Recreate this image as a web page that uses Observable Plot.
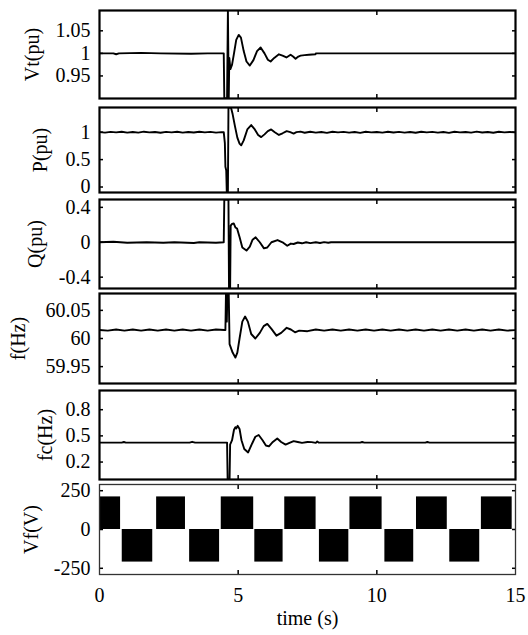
<!DOCTYPE html>
<html><head><meta charset="utf-8">
<script src="https://cdn.jsdelivr.net/npm/d3@7"></script>
<script src="https://cdn.jsdelivr.net/npm/@observablehq/plot@0.6"></script>
<style>
body{margin:0;background:#fff;}
#chart{position:relative;width:528px;height:635px;overflow:hidden;}
#chart svg{position:absolute;left:0;}
</style></head><body><div id="chart"></div>
<script>
// ---- tick labels ----
const xTicks = [0, 5, 10, 15];
const xInnerTicks = [5, 10];
const vtTicks = [0.95, 1, 1.05];
const pTicks = [0, 0.5, 1];
const qTicks = [-0.4, 0, 0.4];
const fTicks = [59.95, 60, 60.05];
const fcTicks = [0.2, 0.5, 0.8];
const vfTicks = [-250, 0, 250];

// ---- series values: [time (s), value] ----
const vtSeries = [[0,1.0],[0.5,1.0],[0.6,0.998],[0.7,1.0],[1.5,1.001],[2.2,1.0],[3.3,0.999],[3.9,1.0],[4.48,1.0],[4.5,0.9],[4.6,0.9],[4.63,1.095],[4.66,0.9],[4.68,0.99],[4.72,0.965],[4.78,0.975],[4.85,1.0],[4.93,1.03],[5.02,1.041],[5.1,1.035],[5.2,1.005],[5.3,0.982],[5.42,0.973],[5.55,0.985],[5.68,1.005],[5.81,1.013],[5.95,1.0],[6.07,0.986],[6.17,0.982],[6.3,0.99],[6.47,0.998],[6.6,0.995],[6.74,0.991],[6.89,0.997],[6.98,0.993],[7.07,0.988],[7.17,0.993],[7.25,0.995],[7.4,0.996],[7.55,0.997],[7.79,0.998],[7.8,1.0],[15,1.0]];

const pSeries = [[0,1.0],[0.2,0.992],[0.4,1.006],[0.6,0.996],[0.8,1.008],[1.0,0.992],[1.2,1.004],[1.4,0.992],[1.6,1.009],[1.8,0.996],[2.0,1.004],[2.2,0.99],[2.4,1.006],[2.6,0.996],[2.8,1.008],[3.0,0.992],[3.2,1.004],[3.4,0.994],[3.6,1.008],[3.8,0.996],[4.0,1.006],[4.2,0.992],[4.4,1.0],[4.48,1.0],[4.52,0.8],[4.54,0.37],[4.57,0.3],[4.59,-0.1],[4.63,-0.1],[4.65,1.45],[4.74,1.45],[4.8,1.33],[4.88,1.12],[4.97,0.9],[5.05,0.79],[5.11,0.76],[5.2,0.85],[5.33,1.05],[5.47,1.13],[5.6,1.05],[5.72,0.95],[5.83,0.91],[5.95,0.96],[6.07,1.02],[6.19,1.05],[6.32,1.0],[6.47,0.95],[6.6,0.98],[6.75,1.02],[6.88,1.0],[7.0,0.975],[7.1,1.0],[7.25,1.01],[7.4,0.99],[7.6,1.008],[7.8,0.992],[8.0,1.004],[8.2,0.988],[8.4,1.008],[8.6,0.996],[8.8,1.006],[9.0,0.992],[9.2,1.004],[9.4,0.988],[9.6,1.008],[9.8,0.996],[10.0,1.004],[10.2,0.992],[10.4,1.008],[10.6,0.994],[10.8,1.006],[11.0,0.992],[11.2,1.004],[11.4,0.99],[11.6,1.008],[11.8,0.996],[12.0,1.006],[12.2,0.992],[12.4,1.004],[12.6,0.988],[12.8,1.008],[13.0,0.996],[13.2,1.004],[13.4,0.992],[13.6,1.009],[13.8,0.994],[14.0,1.004],[14.2,0.99],[14.4,1.008],[14.6,0.996],[14.8,1.004],[15.0,0.996]];

const qSeries = [[0,0],[0.5,0.005],[1.0,-0.005],[1.7,0.0],[2.3,-0.005],[2.7,0.0],[3.4,-0.008],[3.6,0.0],[4.2,-0.005],[4.48,0.0],[4.5,0.49],[4.65,0.49],[4.67,-0.53],[4.71,-0.53],[4.73,0.19],[4.78,0.21],[4.84,0.215],[4.9,0.17],[4.96,0.157],[5.05,0.06],[5.15,-0.06],[5.3,-0.095],[5.42,-0.05],[5.52,0.03],[5.63,0.057],[5.78,0.0],[5.93,-0.07],[6.05,-0.06],[6.2,0.0],[6.42,0.025],[6.6,0.0],[6.77,-0.04],[6.9,-0.015],[7.0,-0.02],[7.15,-0.003],[7.3,-0.012],[7.45,0.0],[7.6,-0.01],[7.8,0.0],[7.95,-0.008],[8.1,0.002],[8.25,-0.006],[8.35,0.0],[15,0.0]];

const fSeries = [[0,60.015],[0.3,60.014],[0.6,60.016],[0.9,60.014],[1.2,60.016],[1.5,60.014],[1.8,60.016],[2.1,60.014],[2.4,60.016],[2.7,60.014],[3.0,60.016],[3.3,60.014],[3.6,60.016],[3.9,60.014],[4.2,60.016],[4.5,60.015],[4.54,60.015],[4.56,60.08],[4.59,60.03],[4.61,60.08],[4.66,60.08],[4.69,59.99],[4.8,59.975],[4.9,59.966],[4.97,59.975],[5.05,60.0],[5.15,60.03],[5.25,60.039],[5.35,60.03],[5.47,60.008],[5.62,60.0],[5.78,60.01],[5.92,60.022],[6.05,60.026],[6.2,60.017],[6.38,60.005],[6.55,60.01],[6.75,60.019],[6.9,60.016],[7.05,60.011],[7.2,60.014],[7.5,60.013],[7.8,60.016],[8.1,60.014],[8.4,60.016],[8.7,60.014],[9.0,60.016],[9.3,60.014],[9.6,60.016],[9.9,60.014],[10.2,60.016],[10.5,60.014],[10.8,60.016],[11.1,60.014],[11.4,60.016],[11.7,60.014],[12.0,60.016],[12.3,60.014],[12.6,60.016],[12.9,60.014],[13.2,60.016],[13.5,60.014],[13.8,60.016],[14.1,60.014],[14.4,60.016],[14.7,60.014],[15,60.015]];

const fcSeries = [[0,0.423],[0.8,0.423],[0.88,0.43],[0.95,0.423],[3.25,0.423],[3.34,0.432],[3.45,0.423],[4.6,0.423],[4.62,0.0],[4.69,0.0],[4.71,0.4],[4.78,0.45],[4.85,0.57],[4.9,0.6],[4.93,0.585],[4.98,0.615],[5.05,0.58],[5.12,0.45],[5.22,0.35],[5.36,0.31],[5.5,0.41],[5.62,0.49],[5.74,0.51],[5.88,0.45],[6.0,0.39],[6.11,0.38],[6.25,0.43],[6.41,0.47],[6.55,0.43],[6.71,0.40],[6.85,0.42],[7.0,0.44],[7.15,0.43],[7.3,0.42],[7.5,0.43],[7.65,0.428],[7.8,0.42],[7.85,0.435],[7.9,0.423],[9.4,0.423],[9.47,0.43],[9.55,0.423],[11.75,0.423],[11.82,0.43],[11.9,0.423],[15,0.423]];

// field voltage blocks (bang-bang excitation)
const vfStart = [0, 0.82, 2.06, 3.25, 4.39, 5.60, 6.68, 7.93, 9.03, 10.29, 11.43, 12.63, 13.77];
const vfEnd   = [0.76, 1.92, 3.10, 4.33, 5.56, 6.62, 7.81, 8.99, 10.19, 11.33, 12.54, 13.71, 14.88];
const vfLevel = [210, -210, 210, -210, 210, -210, 210, -210, 210, -210, 210, -210, 210];
const vfBlocks = vfStart.map((s, i) => ({x1: s, x2: vfEnd[i], y: vfLevel[i]}));

const FONT = "'Liberation Serif', 'Times New Roman', serif";
const W = 528, ML = 99, MR = 13;

const panels = [
  {label: "Vt(pu)", data: vtSeries, domain: [0.9, 1.095], ticks: vtTicks, top: 10, bottom: 98, lo: 75},
  {label: "P(pu)", data: pSeries, domain: [-0.1, 1.45], ticks: pTicks, top: 107, bottom: 192, lo: 67},
  {label: "Q(pu)", data: qSeries, domain: [-0.53, 0.49], ticks: qTicks, top: 199, bottom: 288, lo: 72},
  {label: "f(Hz)", data: fSeries, domain: [59.92, 60.08], ticks: fTicks, top: 293, bottom: 383, lo: 89},
  {label: "fc(Hz)", data: fcSeries, domain: [0, 1.02], ticks: fcTicks, top: 390, bottom: 479, lo: 62},
  {label: "Vf(V)", data: null, domain: [-290, 290], ticks: vfTicks, top: 484, bottom: 574, lo: 76, last: true}
];

const chart = document.getElementById("chart");
for (const p of panels) {
  const mt = 2, mb = p.last ? 61 : 2;
  const marks = [];
  if (p.data) {
    marks.push(Plot.line(p.data, {x: d => d[0], y: d => d[1], stroke: "black", strokeWidth: 1.9, clip: true}));
  } else {
    marks.push(Plot.rectY(vfBlocks, {x1: "x1", x2: "x2", y1: 0, y2: "y", fill: "black"}));
  }
  marks.push(
    Plot.axisY(p.ticks, {anchor: "left", tickSize: 0, tickPadding: 9, tickFormat: d => String(d),
      label: p.label, labelAnchor: "center", labelArrow: "none", labelOffset: p.lo}),
    Plot.axisY(p.ticks, {anchor: "left", tickSize: 4, dx: 4, tickFormat: () => "", label: null, strokeWidth: 1.5}),
    Plot.axisY(p.ticks, {anchor: "right", tickSize: 4, dx: -4, tickFormat: () => "", label: null, strokeWidth: 1.5}),
    Plot.axisX(xInnerTicks, {anchor: "top", tickSize: 4, dy: 4, tickFormat: () => "", label: null, strokeWidth: 1.5}),
    Plot.axisX(xInnerTicks, {anchor: "bottom", tickSize: 4, dy: -4, tickFormat: () => "", label: null, strokeWidth: 1.5}),
    Plot.frame({stroke: p.last ? "#333" : "black", strokeWidth: p.last ? 1.3 : 2.2})
  );
  if (p.last) {
    marks.push(Plot.axisX(xTicks, {anchor: "bottom", tickSize: 0, tickPadding: 13,
      label: "time (s)", labelAnchor: "center", labelArrow: "none", labelOffset: 50}));
  }
  const svg = Plot.plot({
    width: W,
    height: (p.bottom - p.top) + mt + mb,
    marginLeft: ML, marginRight: MR, marginTop: mt, marginBottom: mb,
    style: {background: "none", fontFamily: FONT, fontSize: "20px", color: "black", overflow: "visible"},
    x: {domain: [0, 15]},
    y: {domain: p.domain},
    marks
  });
  svg.style.top = (p.top - mt) + "px";
  chart.appendChild(svg);
}
</script></body></html>
